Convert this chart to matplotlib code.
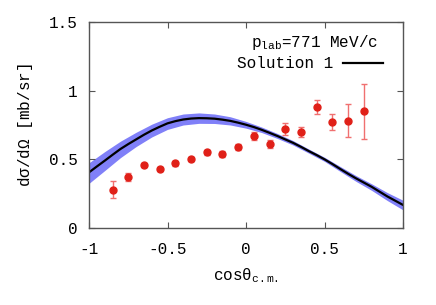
import matplotlib
matplotlib.use("Agg")
import matplotlib.pyplot as plt

# Data points (cos theta c.m., dsigma/dOmega, error)
cos_pts = [-0.85, -0.75, -0.65, -0.55, -0.45, -0.35, -0.25, -0.15, -0.05,
           0.05, 0.15, 0.25, 0.35, 0.45, 0.55, 0.65, 0.75]
xs_pts = [0.28, 0.37, 0.46, 0.43, 0.47, 0.50, 0.55, 0.54, 0.59,
          0.67, 0.61, 0.72, 0.70, 0.88, 0.77, 0.78, 0.85]
err_pts = [0.064, 0.03, 0.015, 0.015, 0.015, 0.015, 0.015, 0.02, 0.025,
           0.03, 0.03, 0.043, 0.038, 0.05, 0.06, 0.12, 0.2]

# Theory curve (Solution 1)
cos_curve = [-1.0, -0.95, -0.9, -0.85, -0.8, -0.75, -0.7, -0.65, -0.6, -0.55,
             -0.5, -0.45, -0.4, -0.35, -0.3, -0.25, -0.2, -0.15, -0.1, -0.05,
             0.0, 0.05, 0.1, 0.15, 0.2, 0.25, 0.3, 0.35, 0.4, 0.45,
             0.5, 0.55, 0.6, 0.65, 0.7, 0.75, 0.8, 0.85, 0.9, 0.95, 1.0]
sol1 = [0.405, 0.448, 0.49, 0.533, 0.575, 0.611, 0.645, 0.679, 0.71, 0.737,
        0.762, 0.778, 0.79, 0.797, 0.80, 0.799, 0.796, 0.789, 0.78, 0.767,
        0.752, 0.735, 0.715, 0.693, 0.67, 0.645, 0.62, 0.591, 0.56, 0.531,
        0.50, 0.466, 0.43, 0.395, 0.362, 0.331, 0.30, 0.265, 0.23, 0.199, 0.168]

# Uncertainty band
cos_band = [-1.0, -0.9, -0.8, -0.7, -0.6, -0.5, -0.4, -0.3, -0.2, -0.1, 0.0,
            0.1, 0.2, 0.3, 0.4, 0.5, 0.6, 0.7, 0.8, 0.9, 1.0]
band_lo = [0.325, 0.418, 0.512, 0.593, 0.663, 0.718, 0.750, 0.762, 0.761, 0.750, 0.727,
           0.695, 0.652, 0.604, 0.545, 0.485, 0.412, 0.340, 0.274, 0.200, 0.132]
band_hi = [0.475, 0.556, 0.632, 0.697, 0.756, 0.803, 0.830, 0.838, 0.830, 0.810, 0.776,
           0.735, 0.688, 0.636, 0.575, 0.515, 0.448, 0.382, 0.322, 0.258, 0.202]

xticks = [-1, -0.5, 0, 0.5, 1]
xticklabels = ["-1", "-0.5", "0", "0.5", "1"]
yticks = [0, 0.5, 1, 1.5]
yticklabels = ["0", "0.5", "1", "1.5"]

plt.rcParams['font.family'] = ['Liberation Mono', 'DejaVu Sans Mono', 'DejaVu Sans']
plt.rcParams['mathtext.fontset'] = 'custom'
plt.rcParams['mathtext.rm'] = 'Liberation Mono'
plt.rcParams['mathtext.it'] = 'Liberation Mono'

fig = plt.figure(figsize=(4.36, 3.05), dpi=100)
ax = fig.add_axes([89/436, 1-228/305, (403-89)/436, (228-22)/305])

ax.fill_between(cos_band, band_lo, band_hi, color='#8080f8', lw=0, zorder=1)
ax.plot(cos_curve, sol1, color='black', lw=1.6, zorder=2, label='Solution 1')
ax.errorbar(cos_pts, xs_pts, yerr=err_pts, fmt='o', color='#e02018', ms=5,
            ecolor='#f07070', elinewidth=1.0, capsize=2.5, capthick=1.0, zorder=3)

ax.set_xlim(-1, 1)
ax.set_ylim(0, 1.5)
ax.set_xticks(xticks)
ax.set_xticklabels(xticklabels)
ax.set_yticks(yticks)
ax.set_yticklabels(yticklabels)
ax.tick_params(direction='in', length=4, width=0.8, color='#555555',
               top=True, right=True, labelsize=11.5)
ax.tick_params(axis='x', pad=10)
ax.tick_params(axis='y', pad=8)
for s in ax.spines.values():
    s.set_color('#555555')
    s.set_linewidth(1.0)

ax.set_xlabel(r'cos$\theta_{\rm c.m.}$', fontsize=11.5, labelpad=7)
ax.set_ylabel(r'd$\sigma$/d$\Omega$ [mb/sr]', fontsize=11.5, labelpad=10)

ax.text(0.92, 0.90, r'p$_{\rm lab}$=771 MeV/c', transform=ax.transAxes,
        ha='right', va='center', fontsize=11.5)
ax.text(0.777, 0.80, 'Solution 1', transform=ax.transAxes,
        ha='right', va='center', fontsize=11.5)
ax.plot([0.809, 0.936], [0.80, 0.80], transform=ax.transAxes, color='black', lw=1.6)

fig.savefig('out.png', dpi=100)
